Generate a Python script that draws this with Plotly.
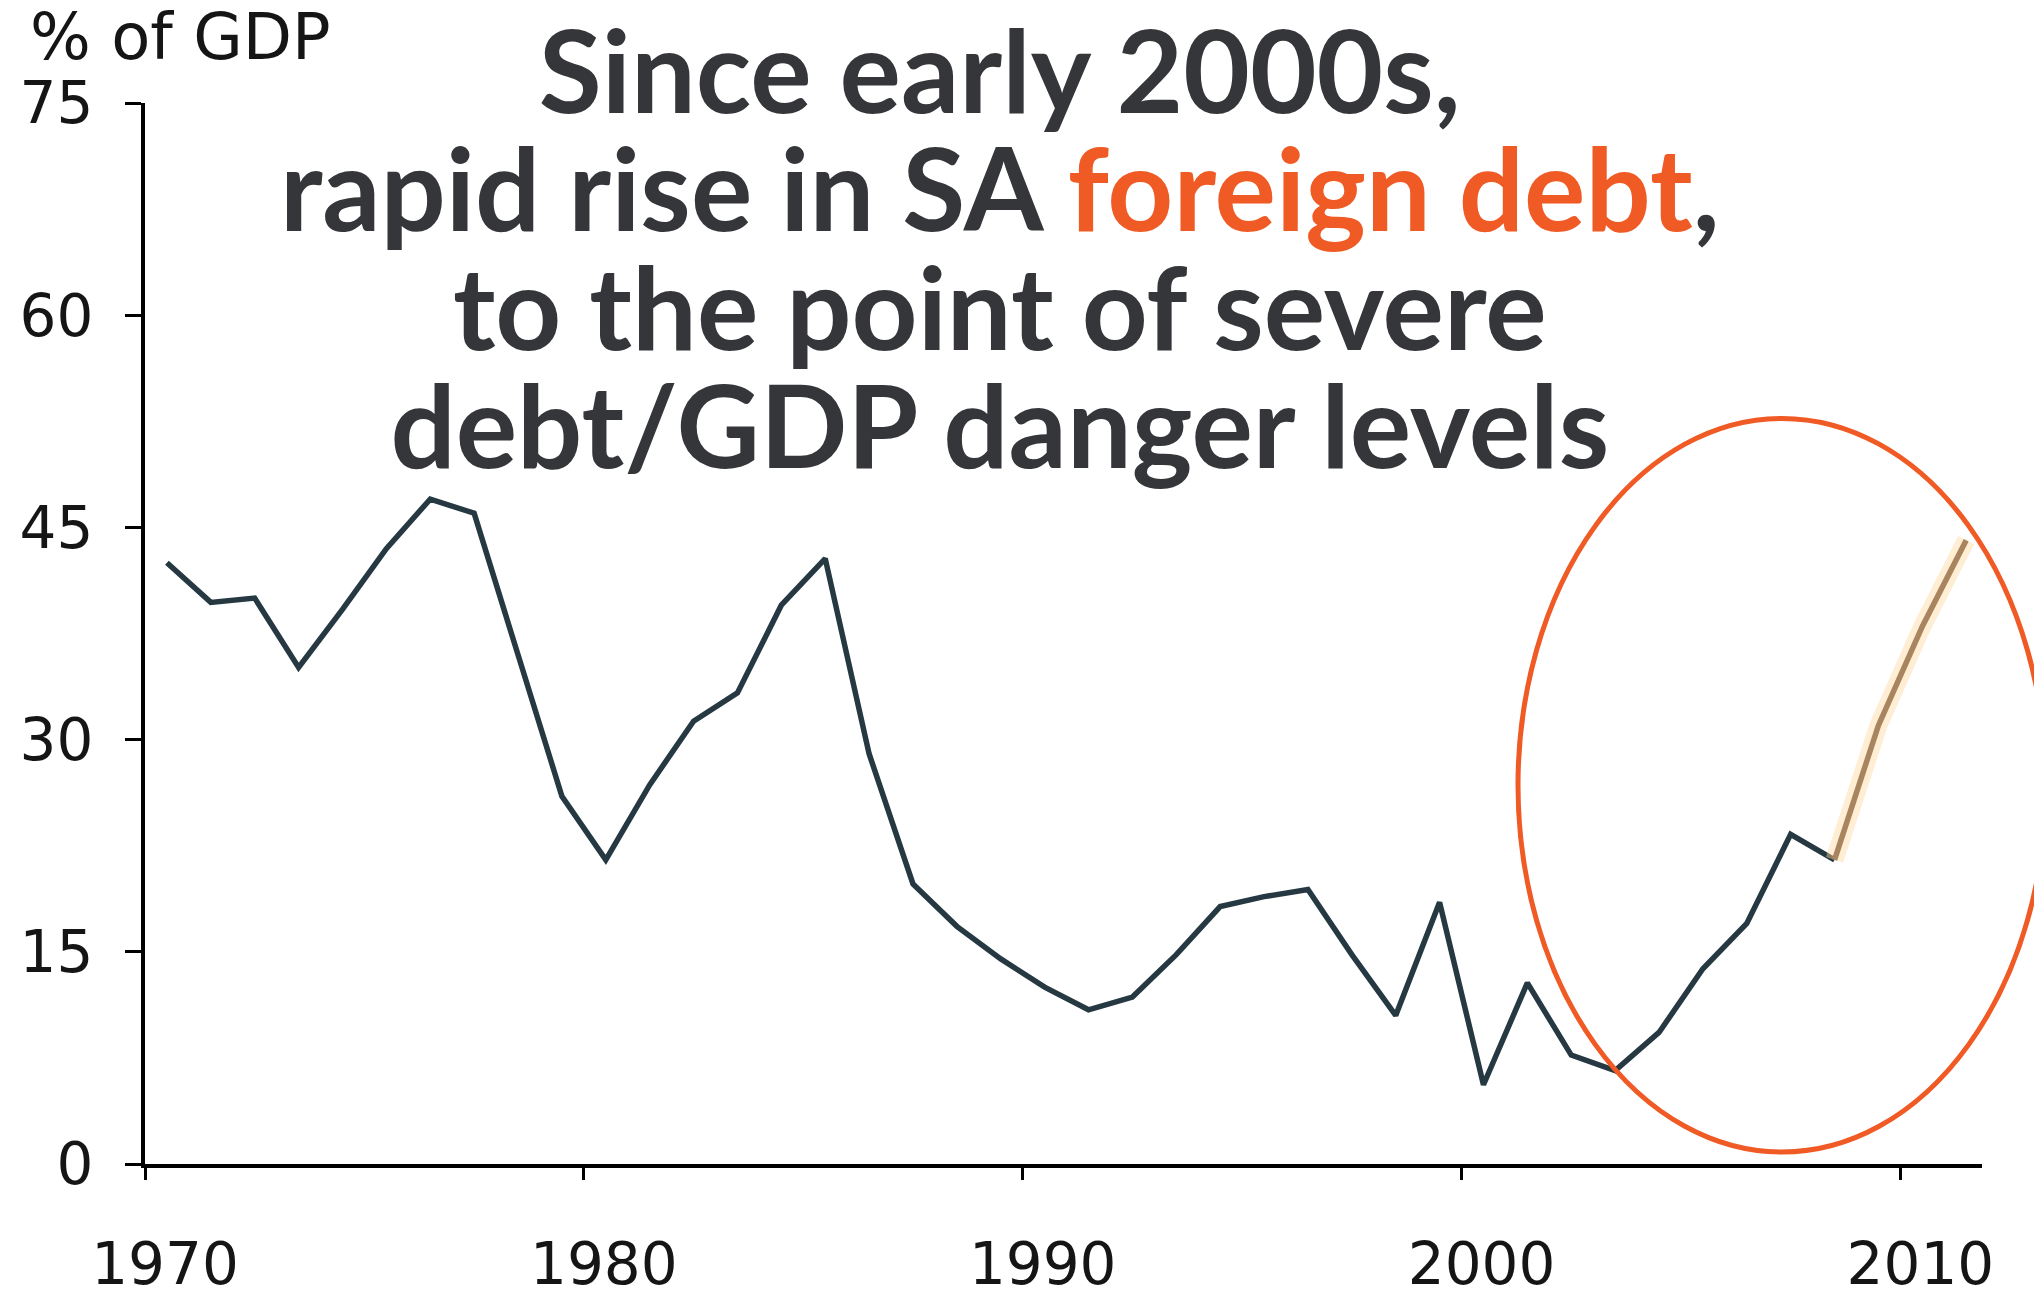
import plotly.graph_objects as go

# South Africa foreign debt, % of GDP (annual, plotted at mid-year)
years = list(range(1970, 2012))
debt_pct_gdp = [42.5, 39.7, 40.0, 35.1, 39.2, 43.5, 47.0, 46.0, 36.0, 26.0,
                21.5, 26.8, 31.3, 33.3, 39.5, 42.8, 29.0, 19.8, 16.8, 14.5,
                12.5, 10.9, 11.8, 14.8, 18.2, 18.9, 19.4, 14.8, 10.5, 18.5,
                5.6, 12.8, 7.7, 6.6, 9.3, 13.8, 17.0, 23.3, 21.5, 31.0,
                38.0, 44.1]
last_actual_year = 2008

x_ticks = [1970, 1980, 1990, 2000, 2010]
y_ticks = [0, 15, 30, 45, 60, 75]

title_lines = [
    "Since early 2000s,",
    "rapid rise in SA <span style='color:#f05a24'>foreign debt</span>,",
    "to the point of severe",
    "debt/GDP danger levels",
]
unit_label = "% of GDP"

split = years.index(last_actual_year)
mid = [y + 0.5 for y in years]

W, H = 2034, 1310
ML, MR, MT, MB = 145, 52, 103, 144
pw, ph = W - ML - MR, H - MT - MB

fig = go.Figure()

# actual series
fig.add_trace(go.Scatter(
    x=mid[:split + 1], y=debt_pct_gdp[:split + 1], mode="lines",
    line=dict(color="#263841", width=5.5), hoverinfo="skip", showlegend=False))

# projected tail: soft halo plus tan line
fig.add_trace(go.Scatter(
    x=mid[split:], y=debt_pct_gdp[split:], mode="lines",
    line=dict(color="rgba(255,214,160,0.45)", width=18), hoverinfo="skip", showlegend=False))
fig.add_trace(go.Scatter(
    x=mid[split:], y=debt_pct_gdp[split:], mode="lines",
    line=dict(color="#a8855f", width=5.5), hoverinfo="skip", showlegend=False))

tick_font = dict(family="DejaVu Sans", size=58, color="#151515")

fig.update_xaxes(
    range=[1970, 2011.86], tickvals=x_ticks, ticktext=[str(v) for v in x_ticks],
    ticks="outside", ticklen=12, tickwidth=3, tickcolor="black",
    showline=True, linewidth=4, linecolor="black",
    showgrid=False, zeroline=False, tickfont=tick_font,
    ticklabelshift=20, ticklabelstandoff=34)
fig.update_yaxes(
    range=[0, 75], tickvals=y_ticks, ticktext=[str(v) for v in y_ticks],
    ticks="outside", ticklen=16, tickwidth=3, tickcolor="black",
    showline=True, linewidth=4, linecolor="black",
    showgrid=False, zeroline=False, tickfont=tick_font,
    ticklabelstandoff=20)

annotations = [dict(
    text=unit_label, xref="paper", yref="paper",
    x=(28 - ML) / pw, y=(H - MB + 2) / ph,
    xanchor="left", yanchor="top", showarrow=False,
    font=dict(family="DejaVu Sans", size=64, color="#151515"))]

# headline: base size sets the line pitch, spans enlarge the glyphs
title_px = 115
title_text = "<br>".join(
    f"<span style='font-size:{title_px}px'>{line}</span>" for line in title_lines)
annotations.append(dict(
    text=title_text, xref="paper", yref="paper",
    x=(1000 - ML) / pw, y=(H - MB - 246) / ph,
    xanchor="center", yanchor="middle", align="center", showarrow=False,
    font=dict(family="Lato", size=91, color="#35363a", weight=700)))

# highlight ring around the post-2003 rise
fig.add_shape(
    type="circle", xref="paper", yref="paper",
    x0=(1518 - ML) / pw, x1=(2046 - ML) / pw,
    y0=(H - MB - 1154) / ph, y1=(H - MB - 419) / ph,
    line=dict(color="#f05a24", width=5), fillcolor="rgba(0,0,0,0)")

fig.update_layout(
    width=W, height=H, margin=dict(l=ML, r=MR, t=MT, b=MB),
    paper_bgcolor="white", plot_bgcolor="white",
    annotations=annotations, showlegend=False)

fig.write_html("out.html")
